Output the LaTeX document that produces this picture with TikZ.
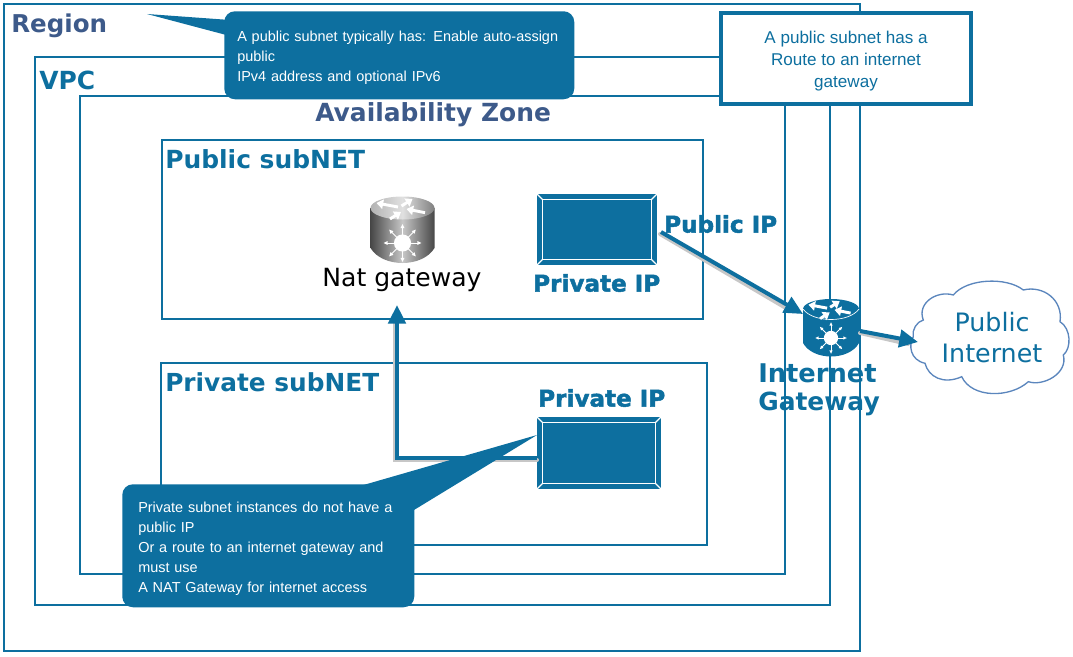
\documentclass[tikz,border=0pt]{standalone}
\usepackage{fontspec}
\setmainfont{Liberation Sans}
\newfontfamily\vera{DejaVu Sans}
\newfontfamily\veraheavy[FakeBold=2]{DejaVu Sans Bold}
\usetikzlibrary{arrows.meta,calc}
\definecolor{awsblue}{HTML}{0D6F9F}
\definecolor{slateblue}{HTML}{3D5A8A}
\definecolor{cloudline}{HTML}{5B86BD}
\newcommand{\pxfont}[1]{\fontsize{#1}{#1}\selectfont}
\tikzset{
  x=0.75pt,y=-0.75pt,
  frame/.style={draw=awsblue,line width=1.3pt,fill=none},
  head/.style={font=\vera\bfseries\pxfont{18.7},text=awsblue,anchor=west,inner sep=0pt},
  heavy/.style={anchor=west,inner sep=0pt,text=awsblue,font=\veraheavy\pxfont{17.3}},
  callbody/.style={fill=awsblue,rounded corners=8pt,inner sep=0pt,anchor=north west},
  calltext/.style={anchor=north west,inner sep=0pt,text=white,align=left,font=\fontsize{10.85}{15}\selectfont},
  flow/.style={draw=awsblue,line width=3pt,-{Triangle[length=14pt,width=13pt]}},
  flowshadow/.style={draw=black!22,line width=3pt,line cap=round},
  rarrow/.style={draw=white,line width=2.2pt,-{Triangle[length=5pt,width=7pt]}},
}
% instance box: name, centre, width, height (px)
\newcommand{\instbox}[5]{%
  \node[fill=awsblue,minimum width=#4*0.75pt,minimum height=#5*0.75pt,inner sep=0pt] (#1) at (#2,#3) {};
  \draw[white,line width=0.9pt] ($(#1.north west)+(6,6)$) rectangle ($(#1.south east)+(-6,-6)$);
  \foreach \a/\sx/\sy in {north west/1/1,north east/-1/1,south west/1/-1,south east/-1/-1}
    \draw[white,line width=0.9pt] (#1.\a) -- ++(6*\sx,6*\sy);
}
% router cylinder parts
\newcommand{\routertop}{%
  \draw[rarrow] (-4.5,-1) -- (-26,-5);
  \draw[rarrow] (-1,-2) -- (10,-9);
  \draw[rarrow] (22.5,4.7) -- (4,1);
  \draw[rarrow] (-12.5,11) -- (-1.5,4);
}
\newcommand{\routerhub}{%
  \fill[white] (0,0) circle (9.5);
  \foreach \r in {0,45,...,315}{
    \begin{scope}[rotate=\r]
      \draw[white,line width=0.7pt] (9,0) -- (17,0);
      \fill[white] (21,0) -- (16.5,-2.2) -- (16.5,2.2) -- cycle;
    \end{scope}}
}
\begin{document}
\begin{tikzpicture}
\useasboundingbox (0,0) rectangle (1073,656);
% frames
\node[frame,minimum width=856*0.75pt,minimum height=647*0.75pt,inner sep=0pt] (region) at (432,327.5) {};
\node[frame,minimum width=795*0.75pt,minimum height=548*0.75pt,inner sep=0pt] (vpc) at (432.5,331) {};
\node[frame,minimum width=705*0.75pt,minimum height=478*0.75pt,inner sep=0pt] (az) at (432.5,335) {};
\node[frame,minimum width=541*0.75pt,minimum height=179*0.75pt,inner sep=0pt] (pubnet) at (432.5,229.5) {};
\node[frame,minimum width=546*0.75pt,minimum height=182*0.75pt,inner sep=0pt] (privnet) at (434,454) {};
% titles
\node[head,text=slateblue,font=\vera\bfseries\pxfont{18.4}] (regiont) at (11,26) {Region};
\node[head] (vpct) at (39,80) {VPC};
\node[head,text=slateblue,font=\vera\bfseries\pxfont{18.7}] (azt) at (315,115) {Availability Zone};
\node[head] (pubt) at (165,159) {Public subNET};
\node[head,font=\vera\bfseries\pxfont{18.6}] (privt) at (165,382) {Private subNET};
% instances
\instbox{pubinst}{597}{229.5}{120}{71}
\instbox{privinst}{599}{453}{124}{72}
\node[heavy] (pubip) at (664,224) {Public IP};
\node[heavy] (privip1) at (533,283) {Private IP};
\node[heavy] (privip2) at (538,398) {Private IP};
% NAT gateway icon
\coordinate (natc) at (402.5,208);
\begin{scope}[shift={(natc)}]
  \shade[left color=black!72,right color=black!72,middle color=black!22]
    (-32,0) -- (-32,40) .. controls (-20,60) and (20,60) .. (32,40) -- (32,0) -- cycle;
  \shade[left color=black!30,right color=black!50,middle color=black!12] (0,0) ellipse (32 and 11.5);
  \routertop
  \begin{scope}[shift={(0,35)},scale=0.9]\routerhub\end{scope}
\end{scope}
\node[inner sep=0pt,text=black,font=\vera\pxfont{18.8}] (natl) at (402,280) {Nat gateway};
% Internet gateway icon
\coordinate (igwc) at (831,309);
\begin{scope}[shift={(igwc)}]
  \fill[awsblue] (-28,0) -- (-28,34) .. controls (-18,52) and (18,52) .. (28,34) -- (28,0) -- cycle;
  \fill[awsblue] (0,0) ellipse (28 and 10);
  \draw[white,line width=0.5pt] (-28,0) .. controls (-18,14) and (18,14) .. (28,0);
  \begin{scope}[scale=0.87]\routertop\end{scope}
  \begin{scope}[shift={(0,29)},scale=0.75]\routerhub\end{scope}
\end{scope}
\node[head,font=\vera\bfseries\pxfont{19.3}] (igwl1) at (758,373) {Internet};
\node[head] (igwl2) at (758,404) {Gateway};
% cloud
\draw[draw=cloudline,line width=1pt,fill=white]
  (913.3,336.7) .. controls (911.7,330) and (916.7,321.7) .. (923.3,320)
  .. controls (916.7,303.3) and (936.7,290) .. (953.3,295)
  .. controls (966.7,278.3) and (1006.7,276.7) .. (1023.3,290)
  .. controls (1043.3,285) and (1063.3,300) .. (1060,321.7)
  .. controls (1071,328.3) and (1071.7,348.3) .. (1063.3,355)
  .. controls (1068.3,373.3) and (1043.3,386.7) .. (1028.3,381.7)
  .. controls (1010,398.3) and (971.7,398.3) .. (961.7,376.7)
  .. controls (943.3,385) and (928.3,376.7) .. (925,363.3)
  .. controls (910,360) and (908.3,345) .. (913.3,336.7) -- cycle;
\node[inner sep=0pt,text=awsblue,align=center,font=\fontsize{19}{23.3}\selectfont\vera] (cloudn) at (992,338) {Public\\Internet};
% connectors
\coordinate (a1s) at (661,232);
\coordinate (a1e) at (803,314);
\coordinate (a2s) at (860,331);
\coordinate (a2e) at (918,342);
\coordinate (corner) at (397,458);
\coordinate (a3e) at (397,305);
\draw[flowshadow] ([shift={(-1,2)}]a1s) -- ([shift={(-12,-3)}]a1e);
\draw[flowshadow] ([shift={(0,2)}]a2s) -- ([shift={(-10,2)}]a2e);
\draw[flowshadow] ([shift={(-2,1)}]a3e) ++(0,14) -- ([shift={(-2,2)}]corner) -- (537,460);
\draw[flow] (a1s) -- (a1e);
\draw[flow] (a2s) -- (a2e);
\draw[flow] (privinst.west |- corner) -- (corner) -- (a3e);
% callouts
\node[callbody,minimum height=88*0.75pt,minimum width=350*0.75pt] (call1) at (224,11) {};
\fill[awsblue] (147,14) -- (230,20) -- (230,36) -- cycle;
\node[calltext,text width=330*0.75pt] (call1t) at (237,30.5)
  {A public subnet typically has: Enable auto-assign\\public\\IPv4 address and optional IPv6};
\node[callbody,minimum height=123*0.75pt,minimum width=292*0.75pt] (call2) at (122,484) {};
\fill[awsblue] (537,435) -- (360,486) -- (414,510) -- cycle;
\node[calltext,text width=270*0.75pt] (call2t) at (138,502)
  {Private subnet instances do not have a\\public IP\\Or a route to an internet gateway and\\must use\\A NAT Gateway for internet access};
\node[draw=awsblue,line width=2.7pt,fill=white,minimum width=250*0.75pt,minimum height=91*0.75pt,inner sep=0pt] (routebox) at (846,58.5) {};
\node[inner sep=0pt,text=awsblue,align=center,font=\fontsize{12.8}{16.5}\selectfont] (routetext) at (846,61.5)
  {A public subnet has a\\Route to an internet\\gateway};
\end{tikzpicture}
\end{document}
